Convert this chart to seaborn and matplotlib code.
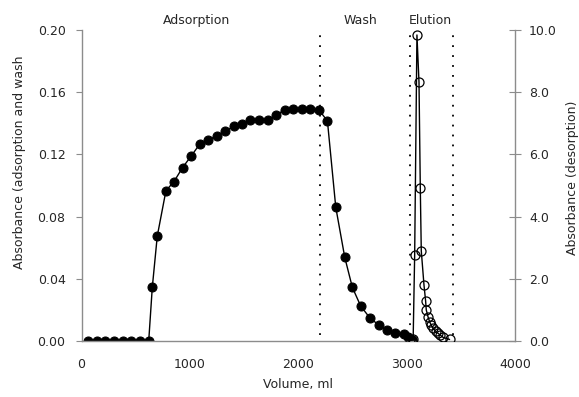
import matplotlib
matplotlib.use("Agg")
import matplotlib.pyplot as plt
import seaborn as sns
import pandas as pd

# adsorption + wash (left axis, filled circles)
ads_volume = [60, 140, 220, 300, 380, 460, 540, 620, 653, 699, 779, 853, 932, 1012,
              1092, 1166, 1246, 1325, 1405, 1479, 1559, 1639, 1719, 1793, 1873, 1952,
              2032, 2112, 2192, 2269, 2346, 2429, 2499, 2576, 2659, 2742, 2816, 2896,
              2975, 3012, 3035, 3050]
ads_absorbance = [0, 0, 0, 0, 0, 0, 0, 0, 0.0345, 0.0675, 0.0967, 0.1025, 0.1115, 0.119,
                  0.1267, 0.129, 0.132, 0.135, 0.138, 0.1395, 0.142, 0.142, 0.142, 0.1453,
                  0.1485, 0.149, 0.149, 0.149, 0.1485, 0.1415, 0.086, 0.0538, 0.0345,
                  0.0225, 0.015, 0.0103, 0.007, 0.005, 0.0043, 0.0028, 0.001, 0.0005]

# elution (right axis, open circles)
elu_volume = [3030, 3045, 3060, 3074, 3095, 3114, 3126, 3135, 3160, 3175, 3181, 3197,
              3212, 3227, 3243, 3267, 3289, 3310, 3335, 3396]
elu_absorbance = [0.02, 0.03, 0.05, 2.77, 9.84, 8.32, 4.91, 2.90, 1.80, 1.29, 1.0, 0.78,
                  0.62, 0.51, 0.41, 0.32, 0.25, 0.19, 0.12, 0.05]

phase_bounds = [2200, 3030, 3430]
phase_names = ["Adsorption", "Wash", "Elution"]
phase_centers = [1065, 2576, 3220]

left_ticks = [0.00, 0.04, 0.08, 0.12, 0.16, 0.20]
right_ticks = [0, 2, 4, 6, 8, 10]
x_ticks = [0, 1000, 2000, 3000, 4000]

sns.set_style("white")
plt.rcParams['font.family'] = ['DejaVu Sans']

ads = pd.DataFrame({"vol": ads_volume, "abs": ads_absorbance})
elu = pd.DataFrame({"vol": elu_volume, "abs": elu_absorbance})

fig = plt.figure(figsize=(5.79, 3.97), dpi=100)
ax = fig.add_axes([0.1408, 0.141, 0.7487, 0.7834])
ax2 = ax.twinx()

sns.lineplot(data=ads, x="vol", y="abs", ax=ax, color="black", lw=1.0,
             marker="o", markersize=6.5, markerfacecolor="black",
             markeredgecolor="black", estimator=None, sort=False)
sns.lineplot(data=elu, x="vol", y="abs", ax=ax2, color="black", lw=1.0,
             marker="o", markersize=6.5, markerfacecolor="none",
             markeredgecolor="black", markeredgewidth=0.9, estimator=None, sort=False)

# dotted phase boundaries
for xb in phase_bounds:
    ax.axvline(xb, color="black", lw=1.3, linestyle=(0, (1, 4.5)), ymin=0.02, ymax=1.0)

for name, xc in zip(phase_names, phase_centers):
    ax.text(xc, 0.2062, name, ha="center", va="center", fontsize=9)

ax.set_xlim(0, 4000)
ax.set_ylim(0, 0.2)
ax2.set_ylim(0, 10)
ax.set_xticks(x_ticks)
ax.set_yticks(left_ticks)
ax.set_yticklabels([f"{v:.2f}" for v in left_ticks])
ax2.set_yticks(right_ticks)
ax2.set_yticklabels([f"{v:.1f}" for v in right_ticks])

gray = "#8c8c8c"
for a in (ax, ax2):
    a.spines["top"].set_visible(False)
    for s in a.spines.values():
        s.set_color(gray)
        s.set_linewidth(1.0)
ax.spines["right"].set_visible(False)
ax2.spines["left"].set_visible(False)
ax2.spines["bottom"].set_visible(False)

ax.tick_params(axis="y", direction="out", length=4, color=gray, labelsize=9, pad=7.5)
ax.tick_params(axis="x", direction="in", length=3, color=gray, labelsize=9, pad=12)
ax2.tick_params(axis="y", direction="inout", length=8, color=gray, labelsize=9, pad=6)

ax.set_xlabel("Volume, ml", fontsize=9)
ax.xaxis.set_label_coords(0.5, -0.12)
ax.set_ylabel("Absorbance (adsorption and wash", fontsize=9)
ax.yaxis.set_label_coords(-0.128, 0.576)
ax2.set_ylabel("Absorbance (desorption)", fontsize=9)
ax2.yaxis.set_label_coords(1.117, 0.524)

fig.savefig("out.png", dpi=100)
